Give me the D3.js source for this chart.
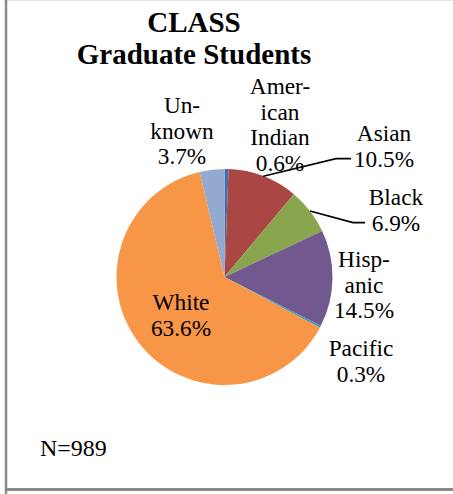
<!DOCTYPE html>
<html>
<head>
<meta charset="utf-8">
<script src="https://cdn.jsdelivr.net/npm/d3@7"></script>
<style>
  html, body { margin: 0; padding: 0; background: #fff; }
  svg { display: block; }
  text { font-family: "Liberation Serif", "Times New Roman", serif; fill: #000; }
</style>
</head>
<body>
<svg id="chart" width="453" height="494"></svg>
<script>
// Enrollment share by race/ethnicity, clockwise from 12 o'clock
const categories = ["American Indian", "Asian", "Black", "Hispanic", "Pacific", "White", "Unknown"];
const shares = [0.6, 10.5, 6.9, 14.5, 0.3, 63.6, 3.7];
const labelLines = [
  ["Amer-", "ican", "Indian"],
  ["Asian"],
  ["Black"],
  ["Hisp-", "anic"],
  ["Pacific"],
  ["White"],
  ["Un-", "known"]
];
const titleLines = ["CLASS", "Graduate Students"];
const footnote = "N=989";

// Presentation
const colors = ["#3f6fae", "#aa4643", "#89a54e", "#71588f", "#4198af", "#f79646", "#93a9cf"];
const center = { x: 224.5, y: 277 };
const radius = 108;
const lineGap = 25.6;
// label block: centre x and first baseline; leader: elbow x for labels with a leader line
const labelLayout = [
  { x: 280, y: 94 },
  { x: 384, y: 141, elbow: 336, end: 351 },
  { x: 396, y: 205, elbow: 353, end: 365 },
  { x: 364, y: 267 },
  { x: 361, y: 356 },
  { x: 181, y: 310 },
  { x: 182, y: 113 }
];

const svg = d3.select("#chart");

// Frame edges
svg.append("line").attr("x1", 7).attr("x2", 453).attr("y1", 0.5).attr("y2", 0.5)
  .attr("stroke", "#e4e4e4").attr("stroke-width", 1);
svg.append("line").attr("x1", 6).attr("x2", 6).attr("y1", 0).attr("y2", 494)
  .attr("stroke", "#8a8a8a").attr("stroke-width", 2.5);
svg.append("line").attr("x1", 6).attr("x2", 453).attr("y1", 489.5).attr("y2", 489.5)
  .attr("stroke", "#8a8a8a").attr("stroke-width", 3);

// Title
svg.append("text")
  .attr("x", 194).attr("y", 32)
  .attr("text-anchor", "middle")
  .style("font-size", "29px").style("font-weight", "bold")
  .selectAll("tspan").data(titleLines).join("tspan")
  .attr("x", 194).attr("dy", (d, i) => i === 0 ? 0 : 31.5)
  .text(d => d);

const data = categories.map((c, i) => ({ name: c, value: shares[i], lines: labelLines[i], color: colors[i], layout: labelLayout[i] }));

const pie = d3.pie().sort(null).value(d => d.value);
const arcs = pie(data);
const arc = d3.arc().innerRadius(0).outerRadius(radius);

const g = svg.append("g").attr("transform", `translate(${center.x},${center.y})`);
g.selectAll("path.slice").data(arcs).join("path")
  .attr("class", "slice")
  .attr("d", arc)
  .attr("fill", d => d.data.color);

// Leader lines from slice edge to label
const leaders = arcs.filter(d => d.data.layout.elbow !== undefined);
svg.selectAll("polyline.leader").data(leaders).join("polyline")
  .attr("class", "leader")
  .attr("fill", "none").attr("stroke", "#000").attr("stroke-width", 1.6)
  .attr("points", d => {
    const mid = (d.startAngle + d.endAngle) / 2;
    const sx = center.x + radius * Math.sin(mid);
    const sy = center.y - radius * Math.cos(mid);
    const L = d.data.layout;
    const ly = L.y + lineGap * d.data.lines.length - 8;
    return [[sx, sy], [L.elbow, ly], [L.end, ly]].map(p => p.join(",")).join(" ");
  });

// Labels: name lines followed by percentage
const labels = svg.selectAll("text.label").data(arcs).join("text")
  .attr("class", "label")
  .attr("text-anchor", "middle")
  .style("font-size", "23.3px");
labels.each(function(d) {
  const L = d.data.layout;
  const lines = d.data.lines.concat([d3.format(".1f")(d.data.value) + "%"]);
  d3.select(this).selectAll("tspan").data(lines).join("tspan")
    .attr("x", L.x)
    .attr("y", (t, i) => L.y + i * lineGap)
    .text(t => t);
});

// Sample size
svg.append("text")
  .attr("x", 40).attr("y", 456)
  .style("font-size", "24px")
  .text(footnote);
</script>
</body>
</html>
